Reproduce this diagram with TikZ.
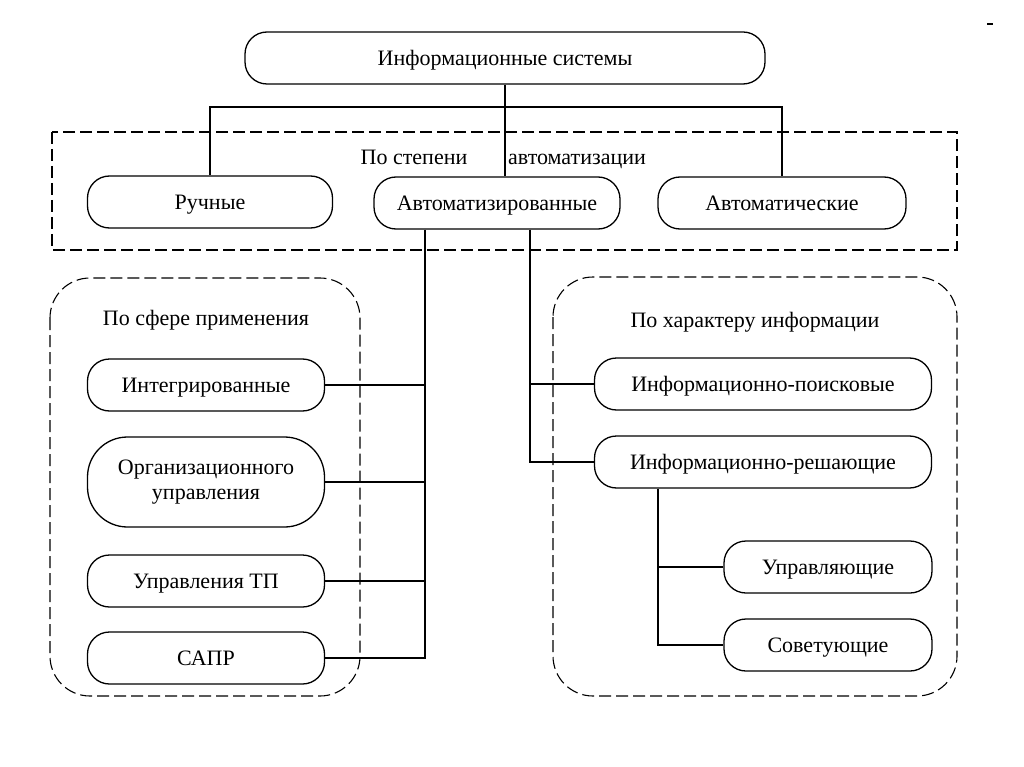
\documentclass[tikz,border=0pt]{standalone}
\usepackage{fontspec}
\setmainfont{Liberation Serif}
\begin{document}
\begin{tikzpicture}[x=1pt,y=-1pt,
  base/.style={draw, line width=1.3pt, inner sep=0pt, align=center, font=\fontsize{22}{25}\selectfont},
  box/.style={base, rounded corners=22pt, minimum height=52pt, text height=18pt, text depth=3pt},
  tallbox/.style={base, rounded corners=40pt, minimum height=90pt},
  lbl/.style={inner sep=0pt, font=\fontsize{22}{25}\selectfont, text height=18pt, text depth=3pt},
  grp/.style={draw, line width=1.1pt, dash pattern=on 12pt off 5pt},
  conn/.style={draw, line width=1.3pt}]
\useasboundingbox (0,0) rectangle (1024,767);
% group frames
\draw[grp] (52,132) rectangle (957,250);
\draw[grp, rounded corners=40pt] (50,278) rectangle (360,696);
\draw[grp, rounded corners=40pt] (553,277) rectangle (957,696);
% nodes
\node[box, minimum width=520pt] (is) at (505,58) {Информационные системы};
\node[box, minimum width=245pt] (ruch) at (210,202) {Ручные};
\node[box, minimum width=246pt] (avtz) at (497,203) {Автоматизированные};
\node[box, minimum width=248pt] (avt) at (782,203) {Автоматические};
\node[box, minimum width=237pt] (integ) at (206,385) {Интегрированные};
\node[tallbox, minimum width=237pt] (org) at (206,482) {Организационного\\управления};
\node[box, minimum width=237pt] (tp) at (206,581) {Управления ТП};
\node[box, minimum width=237pt] (sapr) at (206,658) {САПР};
\node[box, minimum width=337pt] (poisk) at (763,384) {Информационно-поисковые};
\node[box, minimum width=337pt] (resh) at (763,462) {Информационно-решающие};
\node[box, minimum width=208pt] (upr) at (828,567) {Управляющие};
\node[box, minimum width=208pt] (sov) at (828,645) {Советующие};
% labels
\node[lbl] (l1) at (414,157) {По степени};
\node[lbl] (l2) at (577,157) {автоматизации};
\node[lbl] (l3) at (206,318) {По сфере применения};
\node[lbl] (l4) at (755,320) {По характеру информации};
% connectors
\coordinate (j) at (505,107);
\coordinate (a) at (425,658);
\coordinate (b) at (530,462);
\coordinate (c) at (658,645);
\draw[conn] (is.south -| j) -- (j);
\draw[conn] (ruch.north) |- (j) -| (avt.north);
\draw[conn] (j) -- (j |- avtz.north);
\draw[conn] (avtz.south -| a) -- (a) -- (sapr.east);
\draw[conn] (integ.east) -- (integ.east -| a);
\draw[conn] (org.east) -- (org.east -| a);
\draw[conn] (tp.east) -- (tp.east -| a);
\draw[conn] (avtz.south -| b) -- (b) -- (resh.west);
\draw[conn] (poisk.west) -- (poisk.west -| b);
\draw[conn] (resh.south -| c) |- (sov.west);
\draw[conn] (upr.west) -- (upr.west -| c);
\coordinate (m1) at (987,24);
\coordinate (m2) at (993,24);
\draw[line width=1.5pt] (m1) -- (m2);
\end{tikzpicture}
\end{document}
